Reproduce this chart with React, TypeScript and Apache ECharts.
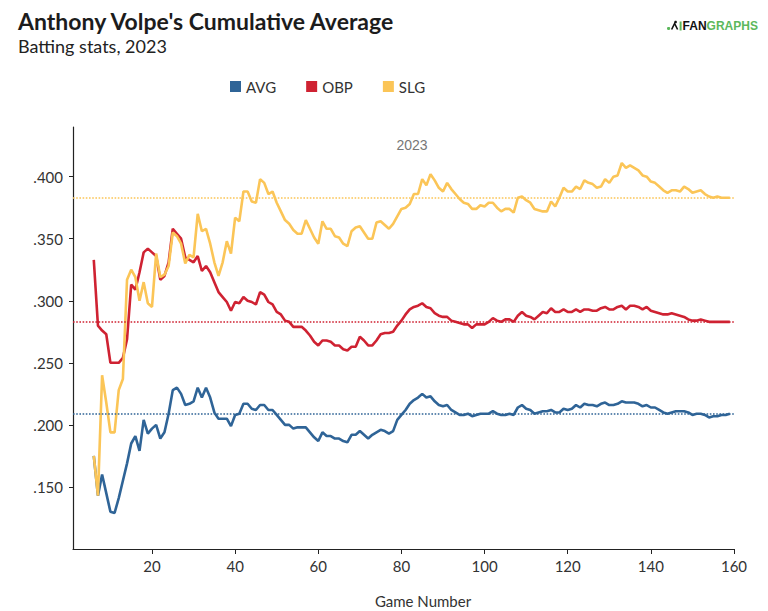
import React, { useEffect, useRef } from "react";
import * as echarts from "echarts";

const FIRST_GAME = 6;

const avg = [
  0.175, 0.143, 0.160, 0.145, 0.130, 0.129, 0.141, 0.155, 0.169, 0.185,
  0.191, 0.179, 0.204, 0.193, 0.197, 0.200, 0.189, 0.194, 0.209, 0.228,
  0.230, 0.225, 0.216, 0.217, 0.219, 0.230, 0.222, 0.230, 0.222, 0.210,
  0.205, 0.205, 0.205, 0.199, 0.208, 0.209, 0.217, 0.217, 0.213, 0.212,
  0.216, 0.216, 0.212, 0.212, 0.208, 0.204, 0.200, 0.200, 0.197, 0.198,
  0.198, 0.198, 0.194, 0.190, 0.187, 0.194, 0.191, 0.191, 0.189, 0.189,
  0.187, 0.186, 0.192, 0.192, 0.195, 0.192, 0.189, 0.192, 0.194, 0.196,
  0.195, 0.193, 0.195, 0.204, 0.208, 0.212, 0.217, 0.220, 0.222, 0.225,
  0.222, 0.223, 0.219, 0.216, 0.215, 0.216, 0.212, 0.210, 0.208, 0.208,
  0.209, 0.207, 0.208, 0.209, 0.209, 0.209, 0.211, 0.209, 0.208, 0.208,
  0.209, 0.208, 0.214, 0.216, 0.213, 0.212, 0.209, 0.210, 0.211, 0.211,
  0.212, 0.210, 0.210, 0.213, 0.212, 0.213, 0.216, 0.214, 0.217, 0.216,
  0.216, 0.215, 0.217, 0.218, 0.216, 0.216, 0.217, 0.219, 0.218, 0.218,
  0.218, 0.217, 0.215, 0.216, 0.214, 0.214, 0.212, 0.210, 0.209, 0.210,
  0.211, 0.211, 0.211, 0.210, 0.208, 0.209, 0.209, 0.208, 0.206, 0.207,
  0.207, 0.208, 0.208, 0.209,
];

const obp = [
  0.333, 0.280, 0.276, 0.273, 0.250, 0.250, 0.250, 0.254, 0.269, 0.313,
  0.309, 0.323, 0.339, 0.342, 0.339, 0.336, 0.317, 0.320, 0.331, 0.358,
  0.354, 0.350, 0.335, 0.333, 0.331, 0.336, 0.324, 0.328, 0.323, 0.315,
  0.307, 0.303, 0.299, 0.292, 0.299, 0.298, 0.303, 0.300, 0.299, 0.297,
  0.307, 0.305, 0.299, 0.297, 0.291, 0.289, 0.284, 0.283, 0.279, 0.279,
  0.279, 0.276, 0.272, 0.267, 0.264, 0.268, 0.268, 0.267, 0.264, 0.264,
  0.261, 0.260, 0.263, 0.263, 0.271, 0.268, 0.264, 0.264, 0.268, 0.273,
  0.274, 0.274, 0.275, 0.280, 0.284, 0.289, 0.293, 0.295, 0.296, 0.298,
  0.295, 0.294, 0.290, 0.288, 0.287, 0.287, 0.284, 0.283, 0.282, 0.281,
  0.281, 0.278, 0.281, 0.281, 0.281, 0.283, 0.286, 0.284, 0.283, 0.285,
  0.285, 0.283, 0.288, 0.291, 0.288, 0.287, 0.285, 0.288, 0.291, 0.290,
  0.294, 0.291, 0.291, 0.293, 0.291, 0.291, 0.293, 0.291, 0.293, 0.293,
  0.292, 0.292, 0.294, 0.295, 0.293, 0.293, 0.295, 0.296, 0.293, 0.296,
  0.296, 0.295, 0.293, 0.295, 0.292, 0.291, 0.290, 0.289, 0.289, 0.290,
  0.289, 0.288, 0.287, 0.285, 0.284, 0.284, 0.285, 0.284, 0.283, 0.283,
  0.283, 0.283, 0.283, 0.283,
];

const slg = [
  0.175, 0.143, 0.240, 0.218, 0.194, 0.194, 0.228, 0.237, 0.317, 0.325,
  0.319, 0.300, 0.315, 0.298, 0.295, 0.338, 0.319, 0.321, 0.328, 0.355,
  0.352, 0.346, 0.330, 0.337, 0.335, 0.370, 0.356, 0.358, 0.346, 0.331,
  0.320, 0.331, 0.348, 0.338, 0.367, 0.364, 0.388, 0.388, 0.380, 0.379,
  0.398, 0.395, 0.386, 0.388, 0.379, 0.372, 0.365, 0.362, 0.357, 0.354,
  0.354, 0.365, 0.358, 0.351, 0.346, 0.364, 0.358, 0.358, 0.352, 0.351,
  0.346, 0.344, 0.356, 0.359, 0.360, 0.355, 0.350, 0.350, 0.363, 0.364,
  0.361, 0.358, 0.362, 0.368, 0.374, 0.375, 0.378, 0.386, 0.386, 0.398,
  0.393, 0.402, 0.397, 0.391, 0.388, 0.395, 0.390, 0.386, 0.382, 0.379,
  0.378, 0.374, 0.374, 0.377, 0.376, 0.379, 0.379, 0.375, 0.372, 0.374,
  0.374, 0.371, 0.383, 0.384, 0.381, 0.379, 0.374, 0.373, 0.372, 0.372,
  0.380, 0.376, 0.383, 0.391, 0.388, 0.388, 0.392, 0.390, 0.397, 0.395,
  0.394, 0.391, 0.392, 0.398, 0.395, 0.400, 0.401, 0.411, 0.407, 0.409,
  0.407, 0.405, 0.401, 0.400, 0.396, 0.395, 0.392, 0.389, 0.387, 0.389,
  0.389, 0.388, 0.392, 0.390, 0.387, 0.388, 0.389, 0.386, 0.384, 0.383,
  0.384, 0.383, 0.383, 0.383,
];

const seasonNames = ["AVG", "OBP", "SLG"];
const seasonFinal = [0.209, 0.283, 0.383];
const xTicks = [20, 40, 60, 80, 100, 120, 140, 160];
const yTicks = [0.15, 0.2, 0.25, 0.3, 0.35, 0.4];

const COLORS = ["#2f6497", "#cf2232", "#fbc557"];

const toPairs = (arr: number[]) => arr.map((v, i) => [FIRST_GAME + i, v]);

export default function App() {
  const ref = useRef<HTMLDivElement>(null);

  useEffect(() => {
    if (!ref.current) return;
    const chart = echarts.init(ref.current, null, { renderer: "svg" });
    const seriesData = [avg, obp, slg];

    chart.setOption({
      animation: false,
      backgroundColor: "#ffffff",
      textStyle: { fontFamily: "Lato" },
      title: {
        text: "Anthony Volpe's Cumulative Average",
        subtext: "Batting stats, 2023",
        left: 13,
        top: 4,
        itemGap: 5,
        textStyle: { fontFamily: "Lato", fontSize: 23, fontWeight: "bold", color: "#1c1c1c" },
        subtextStyle: { fontFamily: "Lato", fontSize: 18, color: "#222222" },
      },
      legend: {
        left: 225,
        top: 74,
        icon: "rect",
        itemWidth: 11,
        itemHeight: 11,
        itemGap: 30,
        textStyle: { fontFamily: "Lato", fontSize: 15, color: "#333333" },
        data: seasonNames,
      },
      grid: { left: 73, right: 34, top: 127, bottom: 62, containLabel: false },
      xAxis: {
        type: "value",
        min: 1,
        max: 160,
        axisLine: { show: true, lineStyle: { color: "#222222", width: 1.2 } },
        axisTick: { show: true, length: 5, customValues: xTicks, lineStyle: { color: "#222222" } },
        axisLabel: {
          customValues: xTicks,
          margin: 9,
          fontFamily: "Lato",
          fontSize: 15,
          color: "#333333",
        },
        splitLine: { show: false },
      },
      yAxis: {
        type: "value",
        min: 0.1,
        max: 0.44,
        axisLine: { show: true, lineStyle: { color: "#222222", width: 1.2 } },
        axisTick: { show: true, length: 4, customValues: yTicks, lineStyle: { color: "#222222" } },
        axisLabel: {
          customValues: yTicks,
          margin: 10,
          fontFamily: "Lato",
          fontSize: 15,
          color: "#333333",
          formatter: (v: number) => v.toFixed(3).replace(/^0/, ""),
        },
        splitLine: { show: false },
      },
      graphic: [
        {
          type: "text",
          x: 423,
          y: 601,
          style: {
            text: "Game Number",
            fontFamily: "Lato",
            fontSize: 15,
            fill: "#333333",
            align: "center",
            verticalAlign: "middle",
          },
        },
        {
          type: "text",
          x: 412,
          y: 145,
          style: {
            text: "2023",
            fontFamily: "Liberation Sans",
            fontSize: 14,
            fill: "#777777",
            align: "center",
            verticalAlign: "middle",
          },
        },
        {
          type: "group",
          left: 667,
          top: 20,
          children: [
            { type: "circle", shape: { cx: 2, cy: 8, r: 1.6 }, style: { fill: "#5cb85c" } },
            {
              type: "polyline",
              shape: { points: [[5, 9], [8, 3], [11, 9]] },
              style: { stroke: "#111111", lineWidth: 1.6, fill: "none" },
            },
            { type: "circle", shape: { cx: 9, cy: 1.5, r: 1.3 }, style: { fill: "#111111" } },
            { type: "rect", shape: { x: 13, y: 1, width: 2, height: 9 }, style: { fill: "#5cb85c" } },
            {
              type: "text",
              x: 16,
              y: -0.5,
              style: {
                text: "{a|FAN}{b|GRAPHS}",
                rich: {
                  a: { fontFamily: "Liberation Sans", fontSize: 12, fontWeight: "bold", fill: "#111111" },
                  b: { fontFamily: "Liberation Sans", fontSize: 12, fontWeight: "bold", fill: "#5cb85c" },
                },
              },
            },
          ],
        },
      ],
      series: seriesData.map((arr, idx) => ({
        name: seasonNames[idx],
        type: "line",
        data: toPairs(arr),
        symbol: "none",
        color: COLORS[idx],
        lineStyle: { width: 2.6, color: COLORS[idx] },
        markLine: {
          silent: true,
          symbol: "none",
          precision: 3,
          label: { show: false },
          lineStyle: { type: "dotted", width: 1.6, color: COLORS[idx] },
          data: [{ yAxis: seasonFinal[idx] }],
        },
      })),
    });

    return () => chart.dispose();
  }, []);

  return (
    <div
      ref={ref}
      style={{ position: "fixed", left: 0, top: 0, width: 768, height: 611 }}
    />
  );
}
